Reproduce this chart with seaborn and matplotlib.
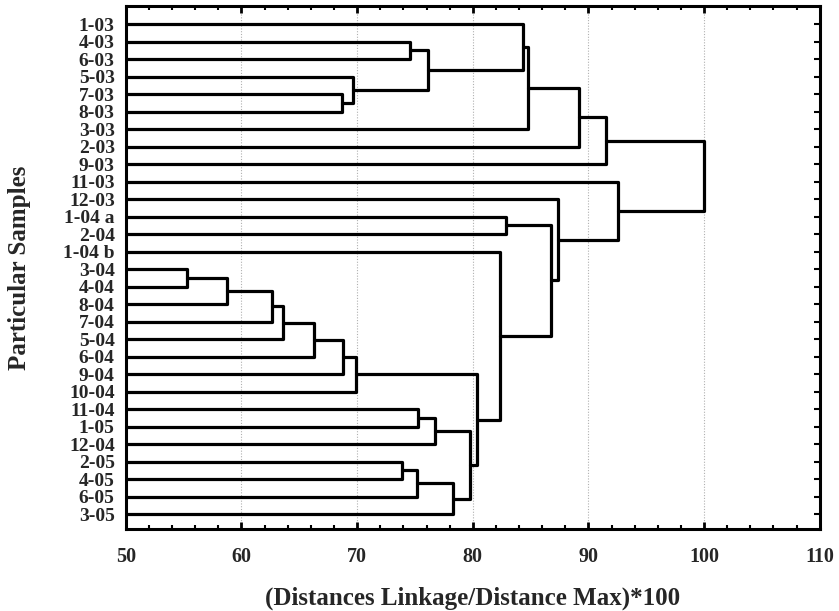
import numpy as np
import pandas as pd
import matplotlib
matplotlib.use("Agg")
import matplotlib.pyplot as plt
import seaborn as sns
from matplotlib.ticker import MultipleLocator

# ---- data -------------------------------------------------------------
labels = ["1-03", "4-03", "6-03", "5-03", "7-03", "8-03", "3-03", "2-03", "9-03",
          "11-03", "12-03", "1-04 a", "2-04", "1-04 b", "3-04", "4-04", "8-04",
          "7-04", "5-04", "6-04", "9-04", "10-04", "11-04", "1-05", "12-04",
          "2-05", "4-05", "6-05", "3-05"]

# linkage: node 29+k joins merge_a[k] and merge_b[k] at merge_h[k]
merge_a = [14, 29, 30, 31, 32, 4, 33, 3, 35, 25, 1, 38, 22, 39, 41, 40, 43, 37,
           13, 11, 0, 49, 48, 10, 50, 53, 9, 54]
merge_b = [15, 16, 17, 18, 19, 5, 20, 34, 21, 26, 2, 27, 23, 36, 24, 28, 44, 45,
           46, 12, 42, 6, 47, 51, 7, 8, 52, 55]
merge_h = [55.3, 58.75, 62.65, 63.6, 66.25, 68.65, 68.8, 69.65, 69.9, 73.85, 74.6,
           75.15, 75.25, 76.1, 76.7, 78.3, 79.8, 80.4, 82.35, 82.85, 84.35, 84.8,
           86.8, 87.35, 89.2, 91.5, 92.6, 100.0]

x_major = [50, 60, 70, 80, 90, 100, 110]
base_level = 50.0

# ---- build segments ---------------------------------------------------
n = len(labels)
ypos = {i: float(i) for i in range(n)}
hpos = {i: base_level for i in range(n)}
rows = []
for k, (a, b, h) in enumerate(zip(merge_a, merge_b, merge_h)):
    node = n + k
    ya, yb = ypos[a], ypos[b]
    pts = [(hpos[a], ya), (h, ya), (h, yb), (hpos[b], yb)]
    for j, (px, py) in enumerate(pts):
        rows.append({"x": px, "y": py, "seg": k, "order": j})
    ypos[node] = (ya + yb) / 2.0
    hpos[node] = h
df = pd.DataFrame(rows)

# ---- plot -------------------------------------------------------------
sns.set_style("white")
plt.rcParams["font.family"] = ["Liberation Serif", "DejaVu Serif"]
plt.rcParams["font.weight"] = "bold"

fig = plt.figure(figsize=(8.39, 6.11), dpi=100)
ax = fig.add_axes([0.150, 0.134, 0.827, 0.856])

for xv in x_major[1:-1]:
    ax.axvline(xv, color="#b0b0b0", lw=0.8, ls=(0, (1, 1.5)), zorder=0)

sns.lineplot(data=df, x="x", y="y", units="seg", estimator=None, sort=False,
             color="black", lw=2.3, ax=ax, legend=False)

ax.set_xlim(50, 110)
ax.set_ylim(28.86, -1.03)
ax.set_xticks(x_major)
ax.set_xticklabels([str(v) for v in x_major], fontsize=14.5, fontweight="bold")
ax.xaxis.set_minor_locator(MultipleLocator(2))
ax.set_yticks(range(n))
ax.set_yticklabels(labels, fontsize=14, fontweight="bold")

ax.tick_params(axis="x", which="major", direction="in", top=True, bottom=True,
               length=5, width=2, pad=13, color="black")
ax.tick_params(axis="x", which="minor", direction="in", top=True, bottom=True,
               length=3, width=1.5, color="black")
ax.tick_params(axis="y", which="major", direction="in", left=False, right=True,
               length=4, width=1.5, pad=8, color="black")

for sp in ax.spines.values():
    sp.set_linewidth(2.2)
    sp.set_color("black")
    sp.set_visible(True)

ax.set_xlabel("(Distances Linkage/Distance Max)*100", fontsize=18, fontweight="bold")
ax.set_ylabel("Particular Samples", fontsize=18, fontweight="bold")
ax.xaxis.set_label_coords(0.5, -0.11)
ax.yaxis.set_label_coords(-0.137, 0.5)

fig.savefig("out.png", dpi=100)
